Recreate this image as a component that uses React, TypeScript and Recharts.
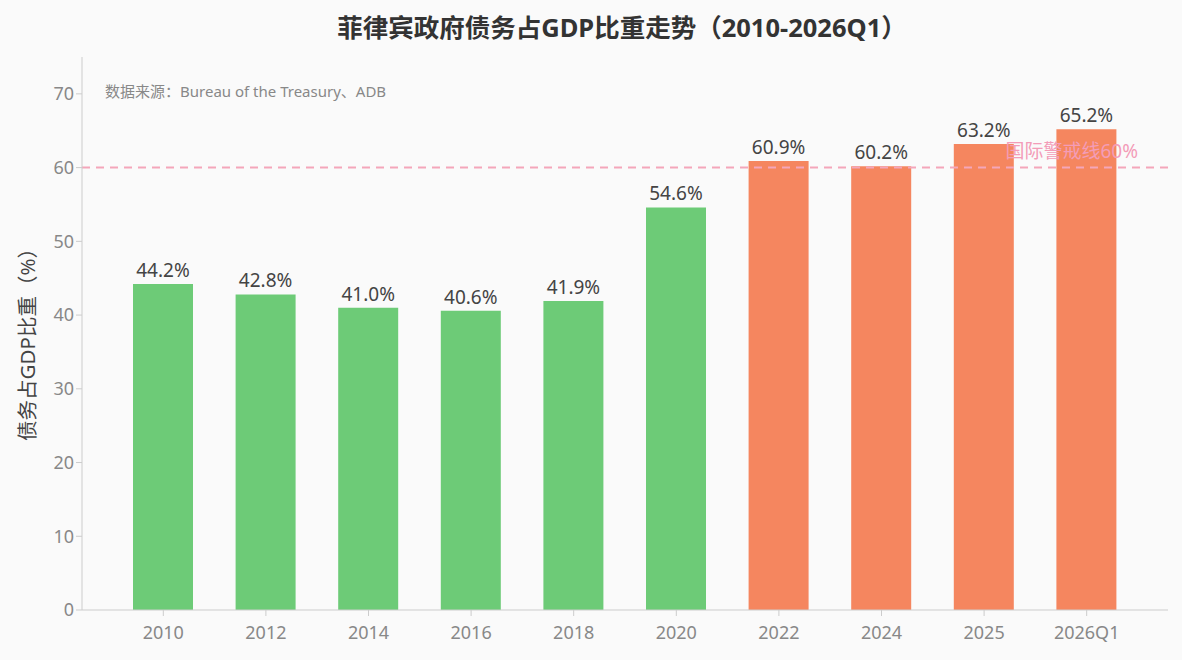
import React from "react";
import {
  BarChart,
  Bar,
  XAxis,
  YAxis,
  Cell,
  LabelList,
  ReferenceLine,
  Label,
} from "recharts";

const periods = ["2010", "2012", "2014", "2016", "2018", "2020", "2022", "2024", "2025", "2026Q1"];
const debtRatio = [44.2, 42.8, 41.0, 40.6, 41.9, 54.6, 60.9, 60.2, 63.2, 65.2];
const yTicks = [0, 10, 20, 30, 40, 50, 60, 70];
const warningLine = 60;

const FONT = '"Noto Sans", "Noto Sans CJK SC", sans-serif';
const GREEN = "#6dcb77";
const ORANGE = "#f5865f";

const data = periods.map((p, i) => ({ period: p, value: debtRatio[i] }));

function YTitle({ viewBox }: any) {
  const cy = viewBox.y + viewBox.height / 2 + 6;
  return (
    <text
      x={27}
      y={cy}
      transform={`rotate(-90, 27, ${cy})`}
      textAnchor="middle"
      dominantBaseline="central"
      fill="#444"
      fontSize={20.5}
      fontFamily={FONT}
    >
      债务占GDP比重（%）
    </text>
  );
}

function WarningLabel({ viewBox }: any) {
  return (
    <text
      x={viewBox.x + viewBox.width - 30}
      y={viewBox.y - 10}
      textAnchor="end"
      fill="#f39cb8"
      fontSize={19}
      fontFamily={FONT}
    >
      国际警戒线60%
    </text>
  );
}

export default function App() {
  return (
    <div
      style={{
        position: "absolute",
        left: 0,
        top: 0,
        width: 1182,
        height: 660,
        background: "#fafafa",
        fontFamily: FONT,
      }}
    >
      <div
        style={{
          position: "absolute",
          top: 7,
          left: 0,
          width: 1244,
          textAlign: "center",
          fontSize: 25.5,
          fontWeight: 700,
          color: "#333",
        }}
      >
        菲律宾政府债务占GDP比重走势（2010-2026Q1）
      </div>
      <div style={{ position: "absolute", left: 105, top: 80, fontSize: 15, color: "#888" }}>
        数据来源：Bureau of the Treasury、ADB
      </div>
      <BarChart
        width={1182}
        height={660}
        data={data}
        margin={{ top: 57, right: 14, bottom: 15, left: 22 }}
      >
        <XAxis
          dataKey="period"
          padding={{ left: 30, right: 30 }}
          stroke="#cccccc"
          tick={{ fill: "#888", fontSize: 18, fontFamily: FONT }}
          tickMargin={10}
          height={35}
        />
        <YAxis
          domain={[0, 75]}
          ticks={yTicks}
          width={60}
          stroke="#cccccc"
          tick={{ fill: "#888", fontSize: 18, fontFamily: FONT }}
        >
          <Label content={<YTitle />} />
        </YAxis>
        <ReferenceLine
          y={warningLine}
          stroke="#f4a6ba"
          strokeWidth={2}
          strokeDasharray="8 6"
          label={<WarningLabel />}
        />
        <Bar dataKey="value" barSize={60} isAnimationActive={false}>
          {data.map((d, i) => (
            <Cell key={d.period} fill={i >= 6 ? ORANGE : GREEN} />
          ))}
          <LabelList
            dataKey="value"
            position="top"
            offset={7}
            fill="#444"
            fontSize={19}
            fontFamily={FONT}
            formatter={(v: any) => `${Number(v).toFixed(1)}%`}
          />
        </Bar>
      </BarChart>
    </div>
  );
}
